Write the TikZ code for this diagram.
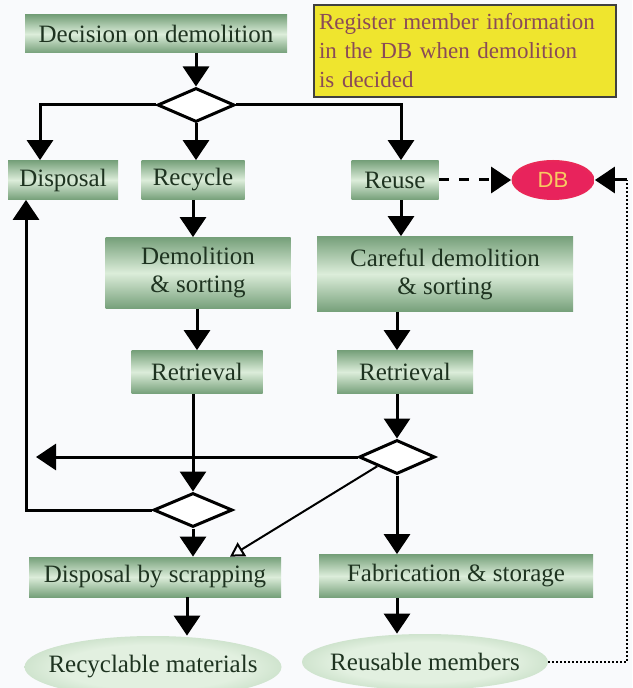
\documentclass[tikz,border=0pt]{standalone}
\usepackage{fontspec}
\setmainfont{Liberation Serif}
\newfontfamily\dbfont{Liberation Sans}
\usepackage{xcolor}
\definecolor{BoxEdge}{HTML}{76A07A}
\definecolor{BoxMid}{HTML}{DCEDDA}
\definecolor{BoxText}{HTML}{1E3320}
\definecolor{OvalEdge}{HTML}{8DB88E}
\definecolor{OvalMid}{HTML}{E2F0E0}
\definecolor{NoteYellow}{HTML}{EFE52E}
\definecolor{NoteText}{HTML}{8A4A58}
\definecolor{DBRed}{HTML}{E8235C}
\definecolor{DBOrange}{HTML}{F0622A}
\definecolor{DBText}{HTML}{F7CB62}
\definecolor{PageGrey}{HTML}{F9FAFC}
\usetikzlibrary{shapes.geometric}
\usetikzlibrary{arrows.meta}
\pgfdeclareradialshading{ovalshade}{\pgfpoint{0bp}{0bp}}{color(0bp)=(OvalMid); color(18bp)=(OvalMid); color(50bp)=(OvalEdge)}
\pgfdeclareradialshading{dbshade}{\pgfpoint{0bp}{0bp}}{color(0bp)=(DBRed); color(22bp)=(DBRed); color(50bp)=(DBOrange)}

\begin{document}
\begin{tikzpicture}[x=0.5pt,y=-0.5pt,
	stepbox/.style={rectangle,inner sep=0pt,top color=BoxEdge,bottom color=BoxEdge,middle color=BoxMid,text=BoxText,align=center,font=\fontsize{12.5}{14}\selectfont},
	oval/.style={ellipse,inner ysep=0pt,shading=ovalshade,text=BoxText,font=\fontsize{12.5}{14}\selectfont},
	choice/.style={diamond,draw,line width=1.5pt,fill=white,inner sep=0pt},
	arr/.style={line width=1.5pt,-{Triangle[length=10pt,width=13pt]}}]
		% page (pixel coordinates, y downwards)
		\clip (0,0) rectangle (632,688);
		\fill[PageGrey] (0,0) rectangle (632,688);
		
		\node[stepbox,minimum width=131pt,minimum height=19pt] (decide) at (156,34) {Decision on demolition};
		\node[draw=black!75,line width=1pt,fill=NoteYellow,text=NoteText,align=left,text width=146pt,inner xsep=2.5pt,inner ysep=0pt,minimum height=46pt,font=\fontsize{11.5}{14.5}\selectfont] (note) at (465,51) {Register member information\\in the DB when demolition\\is decided};
		\node[choice,minimum width=38.5pt,minimum height=17pt] (dtop) at (196,105) {};
		
		\node[stepbox,minimum width=55pt,minimum height=19.5pt] (disp) at (63,180) {Disposal};
		\node[stepbox,minimum width=51.5pt,minimum height=19.5pt] (recyc) at (193,180) {Recycle};
		\node[stepbox,minimum width=43.5pt,minimum height=19.5pt] (reuse) at (395,180) {Reuse};
		\node[ellipse,inner sep=0pt,shading=dbshade,text=DBText,font=\dbfont\fontsize{11}{13}\selectfont,minimum width=41.5pt,minimum height=20pt] (db) at (553,180) {DB};
		
		\node[stepbox,minimum width=92.5pt,minimum height=35.5pt] (demo) at (198,273) {Demolition\\\& sorting};
		\node[stepbox,minimum width=128pt,minimum height=37.5pt] (careful) at (445,274) {Careful demolition\\\& sorting};
		\node[stepbox,minimum width=65.5pt,minimum height=21.5pt] (retr1) at (197,372) {Retrieval};
		\node[stepbox,minimum width=68pt,minimum height=21.5pt] (retr2) at (405,372) {Retrieval};
		
		\node[choice,minimum width=38pt,minimum height=17pt] (dmid) at (397,457) {};
		\node[choice,minimum width=39.5pt,minimum height=17pt] (dlow) at (193,510) {};
		
		\node[stepbox,minimum width=126pt,minimum height=20pt] (scrap) at (155,577) {Disposal by scrapping};
		\node[stepbox,minimum width=137pt,minimum height=21.5pt] (fab) at (456,576) {Fabrication \& storage};
		\node[oval,inner xsep=-9pt,minimum width=128.5pt,minimum height=31pt] (recmat) at (153,667) {Recyclable materials};
		\node[oval,inner xsep=-5pt,minimum width=123pt,minimum height=28pt] (reumem) at (425,662) {Reusable members};
		
		\coordinate (leftend) at (36,457);
		\coordinate (dbcorner) at (627,180);
		
		% decision
		\draw[arr] (decide.south -| dtop.north) -- (dtop.north);
		\draw[arr] (dtop.west) -| ([xshift=-11.5pt]disp.north);
		\draw[arr] (dtop.south) -- (dtop.south |- recyc.north);
		\draw[arr] (dtop.east) -| ([xshift=3pt]reuse.north);
		\draw[line width=1.5pt,dash pattern=on 5pt off 5pt,-{Triangle[length=10pt,width=13pt]}] (reuse.east) -- (db.west);
		
		% recycle / reuse
		\draw[arr] (recyc.south) -- (recyc.south |- demo.north);
		\draw[arr] ([xshift=3pt]reuse.south) -- ([xshift=3pt]reuse.south |- careful.north);
		\draw[arr] (retr1.north |- demo.south) -- (retr1.north);
		\draw[arr] (dmid.north |- careful.south) -- (dmid.north |- retr2.north);
		\draw[arr] (dmid.north |- retr2.south) -- (dmid.north);
		
		% branches
		\draw[arr] (dmid.west) -- (leftend);
		\draw[arr] (dlow.north |- retr1.south) -- (dlow.north);
		\draw[arr] (dlow.west) -| ([xshift=-18.5pt]disp.south);
		\draw[arr] (dlow.south) -- (dlow.south |- scrap.north);
		\draw[line width=1pt,-{Triangle[open,length=7pt,width=8pt]}] (dmid.south west) -- ([xshift=37.5pt]scrap.north);
		\draw[arr] (dmid.south) -- (dmid.south |- fab.north);
		
		% products
		\draw[arr] ([xshift=16pt]scrap.south) -- ([xshift=16pt]scrap.south |- recmat.north);
		\draw[arr] (dmid.south |- fab.south) -- (dmid.south |- reumem.north);
		\draw[line width=1pt,dash pattern=on 1pt off 1pt] (reumem.east) -| (dbcorner);
		\draw[arr] (dbcorner) -- (db.east);
		
	\end{tikzpicture}
\end{document}
